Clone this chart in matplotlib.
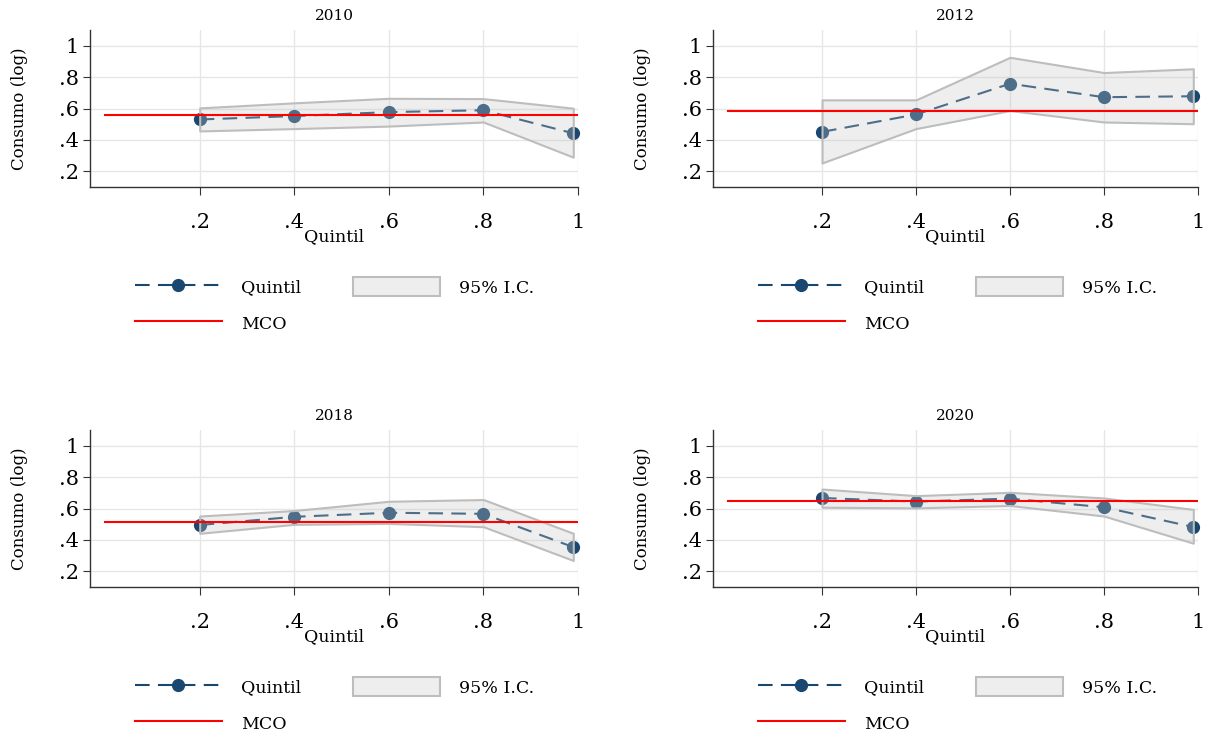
import matplotlib
matplotlib.use("Agg")
import matplotlib.pyplot as plt
from matplotlib.lines import Line2D
from matplotlib.patches import Patch

plt.rcParams['font.family'] = ['DejaVu Serif']

years = ["2010", "2012", "2018", "2020"]
quintiles = [0.2, 0.4, 0.6, 0.8, 0.99]

coef_2010 = [0.530, 0.552, 0.577, 0.589, 0.442]
upper_2010 = [0.604, 0.636, 0.665, 0.663, 0.602]
lower_2010 = [0.457, 0.472, 0.488, 0.514, 0.290]
mco_2010 = 0.556

coef_2012 = [0.451, 0.562, 0.758, 0.672, 0.678]
upper_2012 = [0.655, 0.655, 0.926, 0.829, 0.853]
lower_2012 = [0.253, 0.472, 0.587, 0.514, 0.503]
mco_2012 = 0.587

coef_2018 = [0.495, 0.547, 0.573, 0.566, 0.354]
upper_2018 = [0.552, 0.587, 0.646, 0.657, 0.442]
lower_2018 = [0.442, 0.499, 0.505, 0.484, 0.269]
mco_2018 = 0.514

coef_2020 = [0.667, 0.644, 0.663, 0.608, 0.482]
upper_2020 = [0.724, 0.682, 0.703, 0.667, 0.594]
lower_2020 = [0.608, 0.604, 0.619, 0.552, 0.379]
mco_2020 = 0.646

coefs = [coef_2010, coef_2012, coef_2018, coef_2020]
uppers = [upper_2010, upper_2012, upper_2018, upper_2020]
lowers = [lower_2010, lower_2012, lower_2018, lower_2020]
mcos = [mco_2010, mco_2012, mco_2018, mco_2020]

xticks = [0.2, 0.4, 0.6, 0.8, 1.0]
xticklabels = [".2", ".4", ".6", ".8", "1"]
yticks = [0.2, 0.4, 0.6, 0.8, 1.0]
yticklabels = [".2", ".4", ".6", ".8", "1"]

W, H = 1211, 734
fig = plt.figure(figsize=(W / 100, H / 100), dpi=100)

navy = "#1a476f"
band_face = (200 / 255, 200 / 255, 200 / 255, 0.3)
band_edge = "#bdbdbd"
dash = (7, 4)

# pixel boxes: left, top, right, bottom
boxes = [(90, 30, 578, 187), (713, 30, 1198, 187),
         (90, 430, 578, 587), (713, 430, 1198, 587)]
legend_anchor = [(135, 277), (758, 277), (135, 677), (758, 677)]

for i, yr in enumerate(years):
    l, t, r, b = boxes[i]
    ax = fig.add_axes([l / W, 1 - b / H, (r - l) / W, (b - t) / H])
    ax.plot(quintiles, coefs[i], color=navy, lw=1.5, dashes=dash,
            marker="o", markersize=8.5, zorder=2, clip_on=False)
    ax.fill_between(quintiles, lowers[i], uppers[i], facecolor=band_face,
                    edgecolor=band_edge, linewidth=1.5, zorder=3)
    ax.plot([0, 1], [mcos[i], mcos[i]], color="red", lw=1.5, zorder=4)

    ax.set_xlim(-0.032, 1.0)
    ax.set_ylim(0.1, 1.1)
    ax.set_xticks(xticks)
    ax.set_xticklabels(xticklabels, fontsize=15)
    ax.set_yticks(yticks)
    ax.set_yticklabels(yticklabels, fontsize=15)
    ax.grid(True, color="#e6e6e6", lw=1.0, zorder=0)
    ax.set_axisbelow(True)
    for s in ["top", "right"]:
        ax.spines[s].set_visible(False)
    for s in ["left", "bottom"]:
        ax.spines[s].set_color("#333333")
        ax.spines[s].set_linewidth(1.0)
    ax.tick_params(axis="x", length=6, pad=13, color="#333333")
    ax.tick_params(axis="y", length=5, pad=3, color="#333333")
    ax.set_title(yr, fontsize=11, pad=7)
    ax.set_xlabel("Quintil", fontsize=12.5, labelpad=-3)
    ax.set_ylabel("Consumo (log)", fontsize=12, labelpad=22)

    handles = [Line2D([], [], color=navy, lw=1.5, dashes=dash, marker="o", markersize=8.5),
               Line2D([], [], color="red", lw=1.5),
               Patch(facecolor=band_face, edgecolor=band_edge, linewidth=1.5)]
    labels = ["Quintil", "MCO", "95% I.C."]
    ax_, ay_ = legend_anchor[i]
    ax.legend(handles, labels, ncol=2, loc="upper left",
              bbox_to_anchor=(ax_ / W, 1 - ay_ / H), bbox_transform=fig.transFigure,
              frameon=False, fontsize=12.5, handlelength=5.0, handleheight=1.35,
              handletextpad=1.1, columnspacing=3.0, labelspacing=0.95,
              borderpad=0, borderaxespad=0)

fig.savefig("out.png", dpi=100)
